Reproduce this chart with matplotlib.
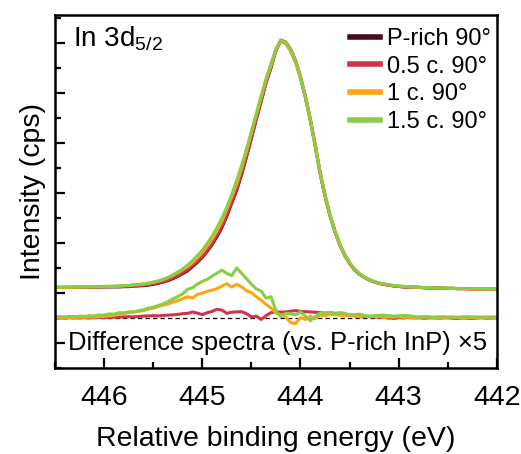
import numpy as np
import matplotlib
matplotlib.use("Agg")
import matplotlib.pyplot as plt
from matplotlib.ticker import MultipleLocator

plt.rcParams['font.family'] = ['Liberation Sans', 'DejaVu Sans']
plt.rcParams['mathtext.fontset'] = 'custom'
plt.rcParams['mathtext.rm'] = 'Liberation Sans'
plt.rcParams['mathtext.it'] = 'Liberation Sans'

# === Data ===
# binding energy grid, 446.5 -> 442.0 eV in 0.05 eV steps
energy = np.round(np.arange(446.5, 441.99, -0.05), 2)

labels = ["P-rich 90°", "0.5 c. 90°", "1 c. 90°", "1.5 c. 90°"]
colors = ["#4b0a22", "#d0344c", "#ffa514", "#8ccc44"]

# In 3d5/2 spectra (arb. units)
prich = [2.23, 2.23, 2.23, 2.23, 2.24, 2.23, 2.24, 2.24, 2.24, 2.24,
         2.25, 2.25, 2.25, 2.25, 2.26, 2.26, 2.28, 2.29, 2.30, 2.32,
         2.35, 2.39, 2.44, 2.50, 2.58, 2.67, 2.78, 2.89, 3.06, 3.23,
         3.43, 3.67, 3.94, 4.26, 4.62, 5.08, 5.60, 6.10, 6.74, 7.44,
         8.19, 8.95, 9.68, 10.42, 11.01, 11.70, 12.09, 11.99, 11.70, 11.25,
         10.61, 9.83, 8.92, 7.89, 6.78, 5.88, 5.10, 4.46, 3.93, 3.51,
         3.19, 2.94, 2.76, 2.63, 2.53, 2.45, 2.39, 2.35, 2.32, 2.29,
         2.27, 2.25, 2.24, 2.24, 2.23, 2.22, 2.21, 2.21, 2.20, 2.20,
         2.19, 2.19, 2.18, 2.18, 2.18, 2.17, 2.17, 2.17, 2.16, 2.16, 2.16]
c05 = [2.23, 2.23, 2.23, 2.23, 2.24, 2.23, 2.24, 2.24, 2.24, 2.24,
       2.25, 2.26, 2.26, 2.26, 2.27, 2.27, 2.29, 2.30, 2.32, 2.34,
       2.37, 2.41, 2.46, 2.52, 2.61, 2.70, 2.82, 2.93, 3.11, 3.27,
       3.46, 3.71, 3.99, 4.33, 4.68, 5.12, 5.65, 6.15, 6.79, 7.48,
       8.20, 8.97, 9.67, 10.44, 11.05, 11.74, 12.12, 12.04, 11.76, 11.31,
       10.66, 9.88, 8.97, 7.94, 6.82, 5.92, 5.14, 4.50, 3.97, 3.54,
       3.21, 2.96, 2.77, 2.64, 2.54, 2.46, 2.40, 2.36, 2.32, 2.29,
       2.27, 2.25, 2.25, 2.24, 2.23, 2.22, 2.21, 2.21, 2.20, 2.20,
       2.19, 2.19, 2.18, 2.18, 2.18, 2.17, 2.17, 2.17, 2.16, 2.16, 2.16]
c10 = [2.23, 2.23, 2.23, 2.24, 2.24, 2.24, 2.25, 2.25, 2.25, 2.25,
       2.26, 2.27, 2.27, 2.28, 2.30, 2.30, 2.33, 2.34, 2.36, 2.39,
       2.43, 2.48, 2.54, 2.61, 2.71, 2.81, 2.94, 3.06, 3.22, 3.42,
       3.63, 3.88, 4.16, 4.50, 4.88, 5.36, 5.85, 6.37, 6.99, 7.66,
       8.39, 9.12, 9.82, 10.53, 11.09, 11.74, 12.11, 12.00, 11.66, 11.21,
       10.61, 9.82, 8.94, 7.89, 6.80, 5.90, 5.13, 4.49, 3.95, 3.53,
       3.22, 2.96, 2.77, 2.65, 2.54, 2.46, 2.40, 2.36, 2.33, 2.30,
       2.28, 2.26, 2.25, 2.24, 2.23, 2.22, 2.21, 2.21, 2.20, 2.20,
       2.19, 2.19, 2.18, 2.18, 2.18, 2.17, 2.17, 2.17, 2.16, 2.16, 2.16]
c15 = [2.24, 2.24, 2.24, 2.24, 2.25, 2.25, 2.25, 2.26, 2.26, 2.27,
       2.27, 2.28, 2.28, 2.29, 2.30, 2.31, 2.33, 2.35, 2.37, 2.40,
       2.44, 2.49, 2.55, 2.63, 2.73, 2.84, 2.97, 3.12, 3.30, 3.50,
       3.72, 3.98, 4.28, 4.62, 5.00, 5.44, 5.94, 6.50, 7.10, 7.76,
       8.46, 9.18, 9.90, 10.58, 11.18, 11.76, 12.10, 12.02, 11.74, 11.28,
       10.66, 9.85, 8.90, 7.90, 6.82, 5.92, 5.15, 4.50, 3.97, 3.55,
       3.22, 2.97, 2.79, 2.65, 2.55, 2.47, 2.41, 2.37, 2.34, 2.31,
       2.29, 2.27, 2.26, 2.25, 2.24, 2.23, 2.22, 2.22, 2.21, 2.21,
       2.20, 2.20, 2.19, 2.19, 2.19, 2.18, 2.18, 2.18, 2.17, 2.17, 2.17]

# difference spectra vs. P-rich, already multiplied by 5
diff_c05 = [0.01, 0.01, 0.00, 0.02, 0.01, 0.01, 0.02, 0.01, 0.02, 0.03,
            0.02, 0.03, 0.04, 0.04, 0.05, 0.06, 0.05, 0.07, 0.08, 0.09,
            0.10, 0.09, 0.11, 0.12, 0.13, 0.15, 0.18, 0.19, 0.25, 0.20,
            0.14, 0.22, 0.27, 0.36, 0.32, 0.19, 0.24, 0.25, 0.26, 0.18,
            0.05, 0.08, -0.05, 0.10, 0.22, 0.26, 0.24, 0.25, 0.28, 0.30,
            0.27, 0.26, 0.25, 0.24, 0.22, 0.20, 0.21, 0.19, 0.18, 0.15,
            0.12, 0.10, 0.06, 0.05, 0.07, 0.04, 0.05, 0.03, 0.01, -0.01,
            0.02, 0.01, 0.03, 0.01, 0.02, 0.00, 0.01, 0.02, 0.00, 0.01,
            0.02, 0.00, -0.01, 0.01, 0.00, -0.01, 0.01, 0.02, 0.00, 0.01, 0.01]
diff_c10 = [0.01, 0.02, 0.01, 0.03, 0.02, 0.04, 0.03, 0.05, 0.04, 0.06,
            0.07, 0.09, 0.11, 0.15, 0.18, 0.22, 0.25, 0.27, 0.30, 0.36,
            0.40, 0.46, 0.52, 0.57, 0.64, 0.70, 0.78, 0.86, 0.80, 0.95,
            1.00, 1.07, 1.12, 1.18, 1.28, 1.38, 1.24, 1.36, 1.25, 1.10,
            1.02, 0.86, 0.72, 0.55, 0.40, 0.22, 0.10, 0.05, -0.18, -0.22,
            0.02, -0.05, 0.08, -0.02, 0.12, 0.10, 0.16, 0.14, 0.12, 0.10,
            0.13, 0.08, 0.06, 0.09, 0.05, 0.07, 0.06, 0.03, 0.05, 0.04,
            0.06, 0.03, 0.04, 0.02, 0.04, 0.03, 0.05, 0.02, 0.01, 0.03,
            0.02, 0.04, 0.02, 0.01, 0.03, 0.02, 0.03, 0.01, 0.02, 0.03, 0.02]
diff_c15 = [0.05, 0.06, 0.05, 0.07, 0.06, 0.08, 0.07, 0.10, 0.09, 0.13,
            0.12, 0.17, 0.16, 0.22, 0.21, 0.25, 0.24, 0.30, 0.33, 0.40,
            0.44, 0.50, 0.57, 0.66, 0.77, 0.86, 0.97, 1.15, 1.22, 1.36,
            1.47, 1.55, 1.68, 1.80, 1.92, 1.79, 1.70, 2.01, 1.80, 1.58,
            1.36, 1.17, 1.08, 0.80, 0.86, 0.30, 0.06, 0.19, 0.18, 0.13,
            0.25, 0.08, -0.10, 0.05, 0.21, 0.20, 0.24, 0.19, 0.22, 0.20,
            0.13, 0.14, 0.16, 0.11, 0.08, 0.10, 0.11, 0.12, 0.10, 0.08,
            0.09, 0.11, 0.10, 0.07, 0.05, 0.06, 0.05, 0.04, 0.05, 0.06,
            0.05, 0.05, 0.04, 0.05, 0.06, 0.05, 0.05, 0.04, 0.05, 0.05, 0.05]

DIFF_OFFSET = 1.0  # vertical offset of the difference spectra

# === Plot ===
fig = plt.figure(figsize=(5.21, 4.54), dpi=100)
ax = fig.add_axes([0.1056, 0.189, 0.848, 0.778])

ax.axhline(DIFF_OFFSET, color="black", lw=0.9, ls=(0, (3.5, 2.5)), zorder=1)

lw = 2.2
for spec, col, lab in zip([prich, c05, c10, c15], colors, labels):
    ax.plot(energy, spec, color=col, lw=lw, label=lab, zorder=2)

for d, col in zip([diff_c05, diff_c10, diff_c15], colors[1:]):
    ax.plot(energy, np.array(d) + DIFF_OFFSET, color=col, lw=lw, zorder=2)

ax.set_xlim(446.5, 442)
ax.set_ylim(-1.0, 13.12)
ax.xaxis.set_major_locator(MultipleLocator(1))
ax.xaxis.set_minor_locator(MultipleLocator(0.5))
ax.yaxis.set_major_locator(MultipleLocator(2))
ax.yaxis.set_minor_locator(MultipleLocator(1))
ax.tick_params(which="both", direction="in", width=1.6, labelsize=20.5)
ax.tick_params(which="major", length=7)
ax.tick_params(which="minor", length=4)
ax.tick_params(axis="x", pad=12)
ax.set_yticklabels([])
for s in ax.spines.values():
    s.set_linewidth(1.8)

ax.set_xlabel("Relative binding energy (eV)", fontsize=20.5, labelpad=11)
ax.set_ylabel("Intensity (cps)", fontsize=20.5, labelpad=3)

ax.text(0.041, 0.91, "In 3d$_{5/2}$", transform=ax.transAxes, fontsize=20,
        va="baseline", ha="left")
ax.text(0.03, 0.071, "Difference spectra (vs. P-rich InP) ×5",
        transform=ax.transAxes, fontsize=18.4, va="center", ha="left")

leg = ax.legend(loc="upper right", bbox_to_anchor=(1.015, 1.0), frameon=False,
                fontsize=17, handlelength=1.25, handletextpad=0.3,
                labelspacing=0.24, borderaxespad=0.15)
for h in leg.get_lines():
    h.set_linewidth(4)

fig.savefig("out.png", dpi=100)
